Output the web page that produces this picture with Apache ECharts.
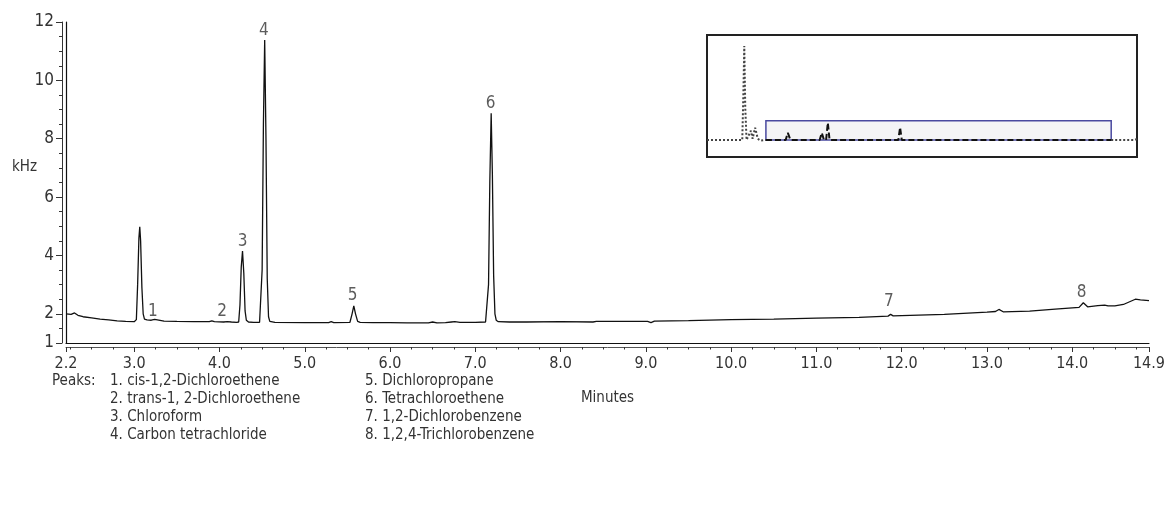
<!DOCTYPE html>
<html>
<head>
<meta charset="utf-8">
<script src="https://cdn.jsdelivr.net/npm/echarts@6/dist/echarts.min.js"></script>
<style>
  html, body { margin: 0; padding: 0; background: #fff; }
  #chart { width: 1168px; height: 514px; }
</style>
</head>
<body>
<div id="chart"></div>
<script>
// chromatogram trace (minutes, kHz)
const traceTime = [
  2.2, 2.26, 2.3, 2.34, 2.4, 2.5, 2.6, 2.7, 2.8, 2.9, 3.0,
  3.025, 3.04, 3.055, 3.065, 3.075, 3.09, 3.105, 3.12, 3.15, 3.2, 3.22, 3.24, 3.26, 3.35, 3.5, 3.7, 3.88,
  3.91, 3.94, 4.05, 4.07, 4.09, 4.11, 4.14, 4.2,
  4.225, 4.24, 4.255, 4.27, 4.285, 4.3, 4.315, 4.34, 4.4, 4.47,
  4.485, 4.5, 4.515, 4.53, 4.545, 4.56, 4.575, 4.59, 4.65, 5.0,
  5.28, 5.31, 5.34, 5.53, 5.555, 5.575, 5.595, 5.62, 5.65, 5.8, 6.0, 6.2,
  6.45, 6.5, 6.55, 6.65, 6.72, 6.76, 6.82, 7.0, 7.12,
  7.14, 7.155, 7.17, 7.186, 7.2, 7.215, 7.23, 7.245, 7.27, 7.4, 7.6, 8.0,
  8.38, 8.42, 8.7, 9.02, 9.06, 9.1, 9.5, 10.0, 10.5, 11.0, 11.5, 11.84,
  11.87, 11.9, 12.5, 13.0, 13.1, 13.14, 13.19, 13.5, 13.8, 14.08,
  14.13, 14.18, 14.3, 14.38, 14.42, 14.5, 14.6, 14.74, 14.8, 14.9
];
const traceKHz = [
  2.0, 1.98, 2.03, 1.95, 1.9, 1.86, 1.82, 1.79, 1.76, 1.74, 1.73,
  1.8, 3.0, 4.6, 4.98, 4.5, 2.9, 2.0, 1.82, 1.79, 1.78, 1.78, 1.81, 1.77, 1.75, 1.74, 1.73, 1.73,
  1.76, 1.73, 1.72, 1.75, 1.73, 1.75, 1.72, 1.71,
  1.72, 2.3, 3.6, 4.15, 3.4, 2.1, 1.78, 1.72, 1.71, 1.71,
  1.73, 3.5, 8.5, 11.38, 8.0, 3.2, 1.9, 1.74, 1.71, 1.7,
  1.7, 1.73, 1.7, 1.71, 2.0, 2.27, 2.0, 1.74, 1.71, 1.7, 1.7, 1.69,
  1.69, 1.72, 1.69, 1.7, 1.72, 1.73, 1.71, 1.71, 1.72,
  1.73, 3.0, 6.5, 8.87, 6.8, 3.3, 2.0, 1.78, 1.73, 1.72, 1.72, 1.73,
  1.72, 1.74, 1.74, 1.74, 1.7, 1.75, 1.77, 1.8, 1.82, 1.85, 1.88, 1.92,
  1.98, 1.93, 1.98, 2.06, 2.08, 2.15, 2.07, 2.09, 2.16, 2.22,
  2.38, 2.24, 2.28, 2.3, 2.27, 2.27, 2.32, 2.5, 2.48, 2.45
];

// peak number labels
const peakNumbers = ['1', '2', '3', '4', '5', '6', '7', '8'];
const peakLabelTime = [3.22, 4.03, 4.27, 4.52, 5.56, 7.18, 11.85, 14.11];
const peakLabelKHz = [2.07, 2.07, 4.49, 11.72, 2.64, 9.22, 2.41, 2.72];

const peakNames = [
  '1. cis-1,2-Dichloroethene', '2. trans-1, 2-Dichloroethene', '3. Chloroform', '4. Carbon tetrachloride',
  '5. Dichloropropane', '6. Tetrachloroethene', '7. 1,2-Dichlorobenzene', '8. 1,2,4-Trichlorobenzene'
];

// tick labels
const xMajorTicks = [2.2, 3, 4, 5, 6, 7, 8, 9, 10, 11, 12, 13, 14, 14.9];
const yMajorTicks = [1, 2, 4, 6, 8, 10, 12];

// inset overview trace (relative units 0-100)
const insetX = [0, 8.2, 8.45, 8.67, 8.9, 9.2, 9.6, 10.2, 10.6, 11.2, 11.8, 12.4, 13.7, null, 94, 99.5, 100.2, 101.5];
const insetY = [14, 14, 50, 91, 40, 14, 13, 21.5, 15, 24, 15, 13.5, 14, null, 14, 14, 15, 14];
const insetBoxX = [13.7, 18.3, 18.8, 19.4, 26.2, 26.7, 27.2, 27.7, 28.1, 28.5, 44.5, 44.9, 45.3, 94];
const insetBoxY = [14, 14, 19.8, 14, 14, 19.8, 14, 14, 28.1, 14, 14, 24.2, 14, 14];
const insetWindow = [[13.7, 14], [94, 29.8]];

const minorX = [];
for (let v = 2.25; v < 14.9; v += 0.25) minorX.push(Math.round(v * 100) / 100);
const minorY = [];
for (let v = 1.5; v < 12; v += 0.5) minorY.push(v);

const font = "'Liberation Sans Narrow', 'DejaVu Sans Condensed', 'Liberation Sans', sans-serif";
const textColor = '#333';

const chart = echarts.init(document.getElementById('chart'));

const option = {
  animation: false,
  backgroundColor: '#fff',
  textStyle: { fontFamily: font },
  grid: [
    { left: 66, right: 11, top: 22, bottom: 171 },
    { left: 707, top: 35, width: 430, height: 122, show: true, borderColor: '#222', borderWidth: 2, backgroundColor: '#fff' }
  ],
  xAxis: [
    {
      type: 'value', gridIndex: 0, min: 2.2, max: 14.9,
      axisLine: { show: true, lineStyle: { color: '#111', width: 1.2 } },
      axisTick: { show: false }, axisLabel: { show: false }, splitLine: { show: false }
    },
    {
      type: 'value', gridIndex: 0, min: 2.2, max: 14.9, position: 'bottom', offset: 4,
      axisLine: { show: true, lineStyle: { color: '#555', width: 1 } },
      axisTick: { show: true, length: 5, customValues: xMajorTicks, lineStyle: { color: '#333' } },
      axisLabel: {
        customValues: xMajorTicks, margin: 9, fontSize: 16, color: textColor, fontFamily: font,
        formatter: v => v.toFixed(1)
      },
      splitLine: { show: false },
      name: 'Minutes', nameLocation: 'middle', nameGap: 44,
      nameTextStyle: { fontSize: 15, color: textColor, fontFamily: font }
    },
    {
      type: 'value', gridIndex: 0, min: 2.2, max: 14.9, position: 'bottom', offset: 4,
      axisLine: { show: false },
      axisTick: { show: true, length: 2.5, customValues: minorX, lineStyle: { color: '#333' } },
      axisLabel: { show: false }, splitLine: { show: false }
    },
    { type: 'value', gridIndex: 1, min: 0, max: 100, show: false }
  ],
  yAxis: [
    {
      type: 'value', gridIndex: 0, min: 1, max: 12,
      axisLine: { show: true, lineStyle: { color: '#111', width: 1.2 } },
      axisTick: { show: false }, axisLabel: { show: false }, splitLine: { show: false }
    },
    {
      type: 'value', gridIndex: 0, min: 1, max: 12, position: 'left', offset: 4,
      axisLine: { show: true, lineStyle: { color: '#333', width: 1 } },
      axisTick: { show: true, length: 6, customValues: yMajorTicks, lineStyle: { color: '#333' } },
      axisLabel: { customValues: yMajorTicks, margin: 8, fontSize: 17, color: textColor, fontFamily: font },
      splitLine: { show: false }
    },
    {
      type: 'value', gridIndex: 0, min: 1, max: 12, position: 'left', offset: 4,
      axisLine: { show: false },
      axisTick: { show: true, length: 3, customValues: minorY, lineStyle: { color: '#333' } },
      axisLabel: { show: false }, splitLine: { show: false }
    },
    { type: 'value', gridIndex: 1, min: 0, max: 100, show: false }
  ],
  series: [
    {
      type: 'line', xAxisIndex: 0, yAxisIndex: 0, showSymbol: false,
      data: traceTime.map((t, i) => [t, traceKHz[i]]),
      lineStyle: { color: '#111', width: 1.3 }
    },
    {
      type: 'scatter', xAxisIndex: 0, yAxisIndex: 0, symbolSize: 0,
      itemStyle: { color: 'transparent' },
      data: peakLabelTime.map((t, i) => [t, peakLabelKHz[i]]),
      label: {
        show: true, position: 'inside', fontSize: 17, color: textColor, fontFamily: font,
        formatter: p => peakNumbers[p.dataIndex]
      }
    },
    {
      type: 'line', xAxisIndex: 3, yAxisIndex: 3, showSymbol: false, clip: false,
      connectNulls: false,
      data: insetX.map((x, i) => (x === null ? [null, null] : [x, insetY[i]])),
      lineStyle: { color: '#444', width: 2, type: 'dotted' }
    },
    {
      type: 'line', xAxisIndex: 3, yAxisIndex: 3, showSymbol: false,
      data: insetBoxX.map((x, i) => [x, insetBoxY[i]]),
      lineStyle: { color: '#111', width: 2, type: [6, 3] },
      markArea: {
        silent: true,
        itemStyle: { color: '#f4f4f6', borderColor: '#4a4aa0', borderWidth: 1.5 },
        data: [[
          { xAxis: insetWindow[0][0], yAxis: insetWindow[0][1] },
          { xAxis: insetWindow[1][0], yAxis: insetWindow[1][1] }
        ]]
      }
    }
  ],
  graphic: [
    { type: 'text', left: 12, top: 160, style: { text: 'kHz', fill: textColor, font: '15px ' + font } },
    { type: 'text', left: 52, top: 374, style: { text: 'Peaks:', fill: textColor, font: '15px ' + font } }
  ].concat(peakNames.map((name, i) => ({
    type: 'text',
    left: i < 4 ? 110 : 365,
    top: 374 + (i % 4) * 18,
    style: { text: name, fill: textColor, font: '15px ' + font }
  })))
};

chart.setOption(option);
</script>
</body>
</html>
